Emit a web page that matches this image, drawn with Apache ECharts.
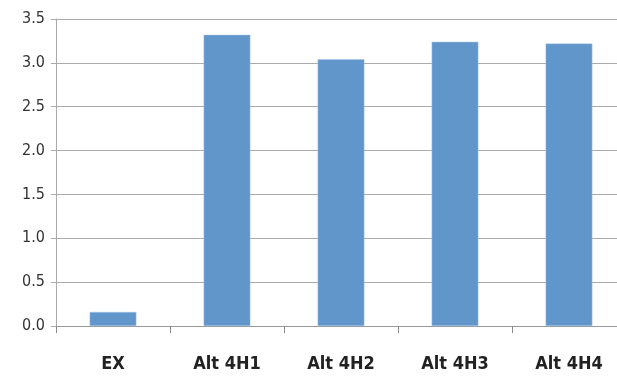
<!DOCTYPE html>
<html><head><meta charset="utf-8">
<script src="https://cdn.jsdelivr.net/npm/echarts@6/dist/echarts.min.js"></script>
<style>html,body{margin:0;padding:0;background:#fff;overflow:hidden}#c{width:626px;height:378px}</style>
</head><body><div id="c"></div>
<script>
var categories = ['EX', 'Alt 4H1', 'Alt 4H2', 'Alt 4H3', 'Alt 4H4'];
var values = [0.16, 3.32, 3.04, 3.24, 3.22];
var yTicks = ['0.0','0.5','1.0','1.5','2.0','2.5','3.0','3.5'];
var font = "'DejaVu Sans Condensed', 'Liberation Sans Narrow', sans-serif";
var chart = echarts.init(document.getElementById('c'));
chart.setOption({
  animation: false,
  grid: { left: 56, right: 0, top: 19, bottom: 52, containLabel: false },
  xAxis: {
    type: 'category', data: categories,
    axisLine: { lineStyle: { color: '#999', width: 1 } },
    axisTick: { show: true, length: 7, lineStyle: { color: '#888' } },
    axisLabel: { color: '#222', fontFamily: font, fontWeight: 'bold', fontSize: 18, margin: 29 }
  },
  yAxis: {
    type: 'value', min: 0, max: 3.5, interval: 0.5,
    axisLine: { show: true, lineStyle: { color: '#aaa' } },
    axisTick: { show: true, length: 5, lineStyle: { color: '#aaa' } },
    splitLine: { lineStyle: { color: '#aaa', width: 1 } },
    axisLabel: { color: '#333', fontFamily: font, fontSize: 16, margin: 11,
      formatter: function (v) { return yTicks[Math.round(v * 2)]; } }
  },
  series: [{
    type: 'bar', data: values, barWidth: '41%',
    itemStyle: { color: '#6196CB', borderColor: '#A9C6E6', borderWidth: 0.5 }
  }]
});
</script></body></html>
